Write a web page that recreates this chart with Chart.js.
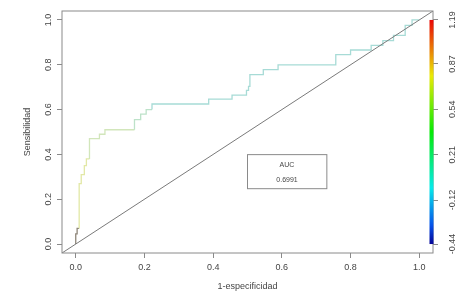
<!DOCTYPE html>
<html>
<head>
<meta charset="utf-8">
<script src="https://cdn.jsdelivr.net/npm/chart.js@4/dist/chart.umd.min.js"></script>
<style>
  html, body { margin: 0; padding: 0; background: #ffffff; }
  #wrap { width: 465px; height: 301px; position: relative; }
</style>
</head>
<body>
<div id="wrap"><canvas id="c" width="465" height="301"></canvas></div>
<script>
// ROC curve vertices (1-especificidad, Sensibilidad)
const fpr = [0, 0, 0.004, 0.004, 0.010, 0.010, 0.016, 0.016, 0.025, 0.025, 0.031, 0.031,
  0.040, 0.040, 0.069, 0.069, 0.085, 0.085, 0.171, 0.171, 0.189, 0.189, 0.205, 0.205,
  0.222, 0.222, 0.387, 0.387, 0.455, 0.455, 0.497, 0.497, 0.503, 0.503, 0.507, 0.507,
  0.546, 0.546, 0.589, 0.589, 0.757, 0.757, 0.800, 0.800, 0.860, 0.860, 0.894, 0.894,
  0.925, 0.925, 0.959, 0.959, 0.979, 0.979, 1.0];
const tpr = [0, 0.045, 0.045, 0.070, 0.070, 0.270, 0.270, 0.310, 0.310, 0.350, 0.350, 0.380,
  0.380, 0.470, 0.470, 0.490, 0.490, 0.510, 0.510, 0.555, 0.555, 0.580, 0.580, 0.600,
  0.600, 0.625, 0.625, 0.647, 0.647, 0.665, 0.665, 0.686, 0.686, 0.704, 0.704, 0.756,
  0.756, 0.778, 0.778, 0.800, 0.800, 0.845, 0.845, 0.866, 0.866, 0.887, 0.887, 0.908,
  0.908, 0.931, 0.931, 0.976, 0.976, 1.0, 1.0];

const xTicks = [0, 0.2, 0.4, 0.6, 0.8, 1.0];
const yTicks = [0, 0.2, 0.4, 0.6, 0.8, 1.0];
const cutoffTicks = [-0.44, -0.12, 0.21, 0.54, 0.87, 1.19];
const aucLabel = 'AUC';
const aucValue = '0.6991';

const AX_MIN = -0.04, AX_MAX = 1.04;
const cutLo = cutoffTicks[0], cutHi = cutoffTicks[cutoffTicks.length - 1];
const cutSpan = cutHi - cutLo;

const FONT = { family: "'Liberation Sans', Arial, sans-serif", size: 9 };
const TXT = '#454545';
const LINE = '#8a8a8a';

function segColor(ctx) {
  const x0 = ctx.p0.parsed.x, y1 = ctx.p1.parsed.y;
  if (x0 < 0.009 && y1 <= 0.07) return '#8e8679';
  if (x0 < 0.04) return '#e2e8a6';
  if (x0 < 0.171) return '#d2e6bb';
  if (x0 < 0.222) return '#bde2c9';
  return '#a7dbd6';
}

const decor = {
  id: 'decor',
  afterDatasetsDraw(chart) {
    const { ctx, chartArea: a, scales } = chart;
    const xs = scales.x, ys = scales.y, y2 = scales.y2;
    ctx.save();
    // plot box
    ctx.strokeStyle = LINE; ctx.lineWidth = 1;
    ctx.strokeRect(a.left, a.top, a.right - a.left, a.bottom - a.top);
    // AUC box
    const bx0 = xs.getPixelForValue(0.50), bx1 = xs.getPixelForValue(0.731);
    const by0 = ys.getPixelForValue(0.399), by1 = ys.getPixelForValue(0.247);
    ctx.strokeStyle = '#8a8a8a';
    ctx.strokeRect(bx0, by0, bx1 - bx0, by1 - by0);
    ctx.fillStyle = TXT;
    ctx.font = "7px 'Liberation Sans', Arial, sans-serif";
    ctx.textAlign = 'center'; ctx.textBaseline = 'middle';
    const cx = xs.getPixelForValue(0.615);
    ctx.fillText(aucLabel, cx, ys.getPixelForValue(0.354));
    ctx.fillText(aucValue, cx, ys.getPixelForValue(0.287));
    // colour bar
    const top = y2.getPixelForValue(cutHi), bot = y2.getPixelForValue(cutLo);
    const g = ctx.createLinearGradient(0, bot, 0, top);
    for (let i = 0; i <= 12; i++) {
      const t = i / 12;
      const hue = 240 * (1 - t);
      const light = t < 0.08 ? 30 + t * 200 : 47;
      g.addColorStop(t, `hsl(${hue},95%,${light}%)`);
    }
    ctx.fillStyle = g;
    ctx.fillRect(a.right - 3.5, top, 4, bot - top);
    ctx.restore();
  }
};

new Chart(document.getElementById('c'), {
  type: 'line',
  data: {
    datasets: [
      {
        data: [{ x: AX_MIN, y: AX_MIN }, { x: AX_MAX, y: AX_MAX }],
        borderColor: '#7a7a7a', borderWidth: 1, pointRadius: 0, yAxisID: 'y'
      },
      {
        data: fpr.map((v, i) => ({ x: v, y: tpr[i] })),
        borderWidth: 1.3, pointRadius: 0, yAxisID: 'y',
        borderColor: '#a7dbd6',
        segment: { borderColor: segColor }
      }
    ]
  },
  options: {
    responsive: false, animation: false, parsing: true,
    layout: { padding: { top: 11, left: 0, right: 0, bottom: 0 } },
    plugins: { legend: { display: false }, tooltip: { enabled: false } },
    scales: {
      x: {
        type: 'linear', min: AX_MIN, max: AX_MAX,
        afterBuildTicks: s => { s.ticks = xTicks.map(v => ({ value: v })); },
        afterFit: s => { s.height = 48; },
        grid: { display: true, drawOnChartArea: false, drawTicks: true, tickLength: 5, color: LINE },
        border: { display: false },
        ticks: { font: FONT, color: TXT, padding: 4, maxRotation: 0, callback: v => v.toFixed(1) },
        title: { display: true, text: '1-especificidad', font: FONT, color: TXT, padding: { top: 0, bottom: 9 } }
      },
      y: {
        type: 'linear', position: 'left', min: AX_MIN, max: AX_MAX,
        afterBuildTicks: s => { s.ticks = yTicks.map(v => ({ value: v })); },
        afterFit: s => { s.width = 62; },
        grid: { display: true, drawOnChartArea: false, drawTicks: true, tickLength: 5, color: LINE },
        border: { display: false },
        ticks: { font: FONT, color: TXT, padding: 2, minRotation: 90, maxRotation: 90, crossAlign: 'center', callback: v => v.toFixed(1) },
        title: { display: true, text: 'Sensibilidad', font: FONT, color: TXT, padding: { top: 22, bottom: 0 } }
      },
      y2: {
        type: 'linear', position: 'right',
        min: cutLo + AX_MIN * cutSpan, max: cutLo + AX_MAX * cutSpan,
        afterBuildTicks: s => { s.ticks = cutoffTicks.map(v => ({ value: v })); },
        afterFit: s => { s.width = 32; },
        grid: { display: true, drawOnChartArea: false, drawTicks: true, tickLength: 5, color: LINE },
        border: { display: false },
        ticks: { font: FONT, color: TXT, padding: 4, minRotation: 90, maxRotation: 90, crossAlign: 'center', callback: v => v.toFixed(2) }
      }
    }
  },
  plugins: [decor]
});
</script>
</body>
</html>
